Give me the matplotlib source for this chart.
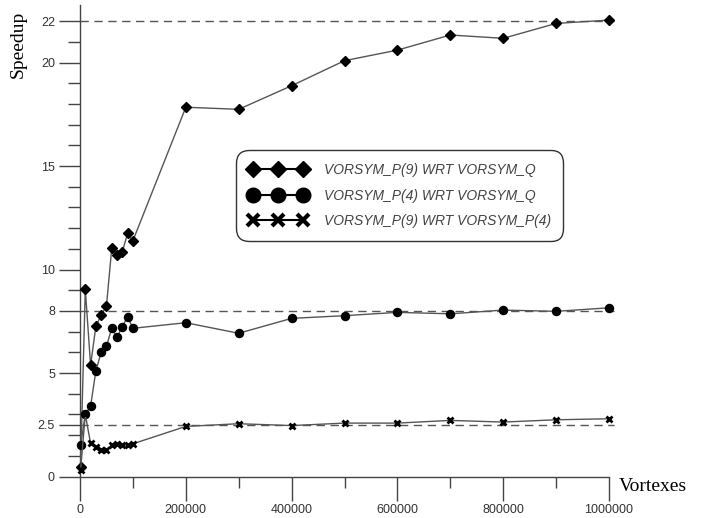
import matplotlib
matplotlib.use('Agg')
import matplotlib.pyplot as plt
from matplotlib.lines import Line2D

# ---- data ----
vortexes = [1000, 10000, 20000, 30000, 40000, 50000, 60000, 70000, 80000, 90000, 100000,
            200000, 300000, 400000, 500000, 600000, 700000, 800000, 900000, 1000000]
p9_wrt_q = [0.45, 9.04, 5.39, 7.25, 7.8, 8.24, 11.02, 10.7, 10.86, 11.75, 11.39,
            17.84, 17.74, 18.88, 20.09, 20.6, 21.33, 21.17, 21.89, 22.05]
p4_wrt_q = [1.5, 3.0, 3.4, 5.1, 6.0, 6.3, 7.16, 6.73, 7.24, 7.72, 7.16,
            7.43, 6.92, 7.64, 7.77, 7.93, 7.86, 8.04, 7.98, 8.15]
p9_wrt_p4 = [0.29, 3.0, 1.6, 1.42, 1.30, 1.28, 1.53, 1.57, 1.5, 1.52, 1.58,
             2.42, 2.55, 2.46, 2.58, 2.58, 2.71, 2.63, 2.74, 2.79]
series_labels = ['VORSYM_P(9) WRT VORSYM_Q', 'VORSYM_P(4) WRT VORSYM_Q',
                 'VORSYM_P(9) WRT VORSYM_P(4)']
ref_levels = [22, 8, 2.5]
y_major = [0, 2.5, 5, 8, 10, 15, 20, 22]
y_major_labels = ['0', '2.5', '5', '8', '10', '15', '20', '22']
y_minor = [1, 2, 3, 4, 6, 7, 9, 11, 12, 13, 14, 16, 17, 18, 19, 21]
x_major = [0, 200000, 400000, 600000, 800000, 1000000]
x_major_labels = ['0', '200000', '400000', '600000', '800000', '1000000']
x_minor = [100000, 300000, 500000, 700000, 900000]

fig = plt.figure(figsize=(7.04, 5.18), dpi=100)
ax = fig.add_axes([80/704, 41.5/518, 529/704, 471.5/518])
ax.set_xlim(0, 1000000)
ax.set_ylim(0, 22.78)
for s in ['top', 'right']:
    ax.spines[s].set_visible(False)
for s in ['left', 'bottom']:
    ax.spines[s].set_color('#444')
    ax.spines[s].set_linewidth(1)

for lvl in ref_levels:
    ax.axhline(lvl, xmin=0, xmax=1.01, color='#555', lw=1, linestyle=(0, (6, 4)),
               clip_on=False, zorder=1)

line_col = '#555'
styles = [dict(marker='D', ms=5.5), dict(marker='o', ms=5.8), dict(marker='x', ms=5, mew=2)]
for ys, st in zip([p9_wrt_q, p4_wrt_q, p9_wrt_p4], styles):
    ax.plot(vortexes, ys, color=line_col, lw=1, mfc='k', mec='k', clip_on=False,
            zorder=3, **st)

tick_font = dict(family='Liberation Sans', size=9, color='#333')
ax.set_yticks(y_major)
ax.set_yticklabels(y_major_labels, **tick_font)
ax.set_yticks(y_minor, minor=True)
ax.set_xticks(x_major)
ax.set_xticklabels(x_major_labels, **tick_font)
ax.set_xticks(x_minor, minor=True)
ax.tick_params(axis='y', which='major', length=15, width=1, color='#444', pad=3)
ax.tick_params(axis='y', which='minor', length=9, width=1, color='#444')
ax.tick_params(axis='x', which='major', length=17, width=1, color='#444', pad=3)
ax.tick_params(axis='x', which='minor', length=8, width=1, color='#444')

fig.text(18/704, 1 - 44/518, 'Speedup', rotation=90, family='Liberation Serif',
         size=14, ha='center', va='center')
fig.text(619/704, 1 - 491/518, 'Vortexes', family='Liberation Serif',
         size=14, ha='left', va='baseline')

handles = [
    Line2D([], [], color='k', lw=1.5, marker='D', ms=8.5, mfc='k', mec='k'),
    Line2D([], [], color='k', lw=1.5, marker='o', ms=10.5, mfc='k', mec='k'),
    Line2D([], [], color='k', lw=1.5, marker='x', ms=8, mew=3, mfc='k', mec='k'),
]
leg = ax.legend(handles, series_labels, loc='upper left', bbox_to_anchor=(0.295, 0.692),
                borderaxespad=0, frameon=True, fancybox=True, numpoints=3,
                handlelength=4.2, handletextpad=1.2, labelspacing=0.85,
                borderpad=0.9,
                prop=dict(family='Liberation Sans', style='italic', size=10))
leg.get_frame().set_edgecolor('#333')
leg.get_frame().set_linewidth(1)
leg.get_frame().set_alpha(1)
leg.get_frame().set_boxstyle('round', pad=0, rounding_size=0.9)
for t in leg.get_texts():
    t.set_color('#444')

fig.savefig('out.png', dpi=100)
